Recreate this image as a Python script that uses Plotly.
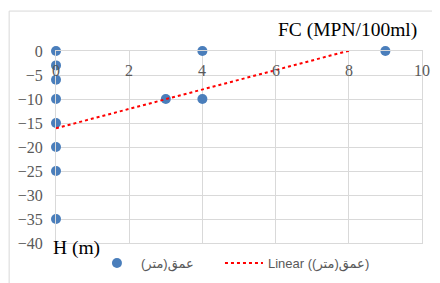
import plotly.graph_objects as go

# Data
fc_values = [0, 4, 9, 0, 0, 0, 3, 4, 0, 0, 0, 0]          # FC (MPN/100ml)
depth_values = [0, 0, 0, -3, -6, -10, -10, -10, -15, -20, -25, -35]  # H (m)
trend_slope = 2.02        # linear trendline as displayed
trend_intercept = -16.1
x_ticks = [0, 2, 4, 6, 8, 10]
y_ticks = [0, -5, -10, -15, -20, -25, -30, -35, -40]
series_name = "عمق(متر)"
trend_name = "Linear (عمق(متر))"

trend_x = [min(fc_values), max(fc_values)]
trend_y = [trend_slope * v + trend_intercept for v in trend_x]

fig = go.Figure()
fig.add_trace(go.Scatter(
    x=fc_values, y=depth_values, mode="markers", name=series_name,
    marker=dict(color="#4a7ebb", size=10), cliponaxis=False, legend="legend",
))
fig.add_trace(go.Scatter(
    x=trend_x, y=trend_y, mode="lines", name=trend_name,
    line=dict(color="#ff0000", width=2, dash="dot"), legend="legend2",
))

serif = "Liberation Serif, Times New Roman, serif"
tick_font = dict(family=serif, size=16, color="#595959")
legend_font = dict(family="Liberation Sans, DejaVu Sans, sans-serif", size=13, color="#595959")

annotations = [
    dict(text=str(v), x=v, y=0, xref="x", yref="y", xanchor="center", yanchor="middle",
         yshift=-19, showarrow=False, font=tick_font)
    for v in x_ticks
]
annotations += [
    dict(text="FC (MPN/100ml)", xref="paper", yref="paper", x=1.0, y=1.0,
         xanchor="right", yanchor="middle", xshift=-3, yshift=21, showarrow=False,
         font=dict(family=serif, size=19.5, color="#000000")),
    dict(text="H (m)", xref="paper", yref="paper", x=0.0, y=0.0,
         xanchor="left", yanchor="middle", xshift=-5, yshift=-5, showarrow=False,
         font=dict(family=serif, size=19.5, color="#000000")),
]

fig.update_layout(
    width=432, height=275,
    margin=dict(l=48, r=18, t=43, b=40, autoexpand=False),
    paper_bgcolor="white", plot_bgcolor="white",
    showlegend=True,
    legend=dict(orientation="h", x=0.101, xanchor="left", y=-0.026, yanchor="top",
                font=legend_font, bgcolor="rgba(0,0,0,0)", itemwidth=38),
    legend2=dict(orientation="h", x=0.448, xanchor="left", y=-0.026, yanchor="top",
                 font=legend_font, bgcolor="rgba(0,0,0,0)", itemwidth=38),
    xaxis=dict(range=[0, 10], tickvals=x_ticks, showticklabels=False, automargin=False,
               showgrid=True, gridcolor="#d9d9d9", gridwidth=1, zeroline=False,
               showline=True, linecolor="#d9d9d9", mirror=True, ticks="", fixedrange=True),
    yaxis=dict(range=[-40, 0], tickvals=y_ticks, automargin=False, showgrid=True,
               gridcolor="#d9d9d9", gridwidth=1, zeroline=False, showline=True,
               linecolor="#d9d9d9", mirror=True, ticks="", ticklabelstandoff=9,
               tickfont=tick_font, fixedrange=True),
    annotations=annotations,
    shapes=[dict(type="rect", xref="paper", yref="paper", x0=-0.128, x1=1.2, y0=-0.4, y1=1.208,
                 line=dict(color="#d9d9d9", width=1), fillcolor="rgba(0,0,0,0)", layer="below")],
)

fig.write_html("out.html")
